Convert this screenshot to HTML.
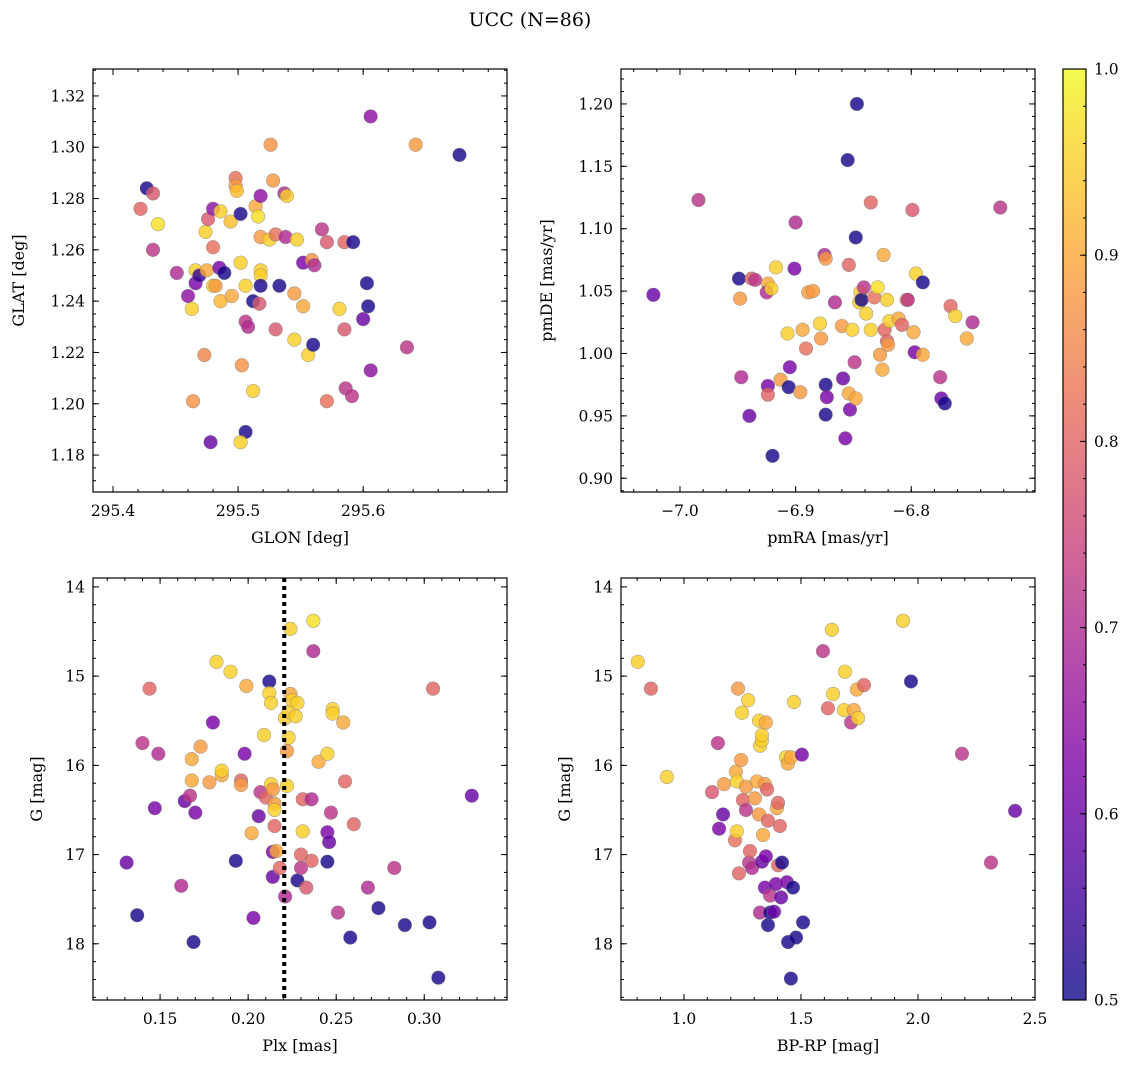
<!DOCTYPE html>
<html><head><meta charset="utf-8"><style>
html,body{margin:0;padding:0;background:#fff;}
svg{display:block;font-family:"DejaVu Serif","Liberation Serif",serif;}
</style></head><body>
<svg id="chart" width="1136" height="1068" viewBox="0 0 1136 1068" xmlns="http://www.w3.org/2000/svg">
<text x="530" y="26" font-size="19" text-anchor="middle">UCC (N=86)</text>
</svg>
<script>
// ---- Panel 1: GLON / GLAT ----
const glon=[295.427,295.432,295.422,295.436,295.432,295.451,295.460,295.463,295.466,295.466,295.469,295.475,295.480,295.486,295.482,295.473,295.464,295.478,295.474,295.476,295.480,295.480,295.486,295.485,295.489,295.495,295.494,295.498,295.498,295.499,295.502,295.502,295.506,295.506,295.508,295.512,295.506,295.502,295.503,295.512,295.514,295.516,295.518,295.518,295.518,295.518,295.518,295.517,295.525,295.526,295.528,295.530,295.533,295.530,295.537,295.539,295.538,295.545,295.547,295.545,295.552,295.552,295.556,295.559,295.561,295.560,295.567,295.571,295.571,295.581,295.585,295.585,295.586,295.592,295.591,295.600,295.603,295.604,295.606,295.606,295.635,295.642,295.677];
const glat=[1.284,1.282,1.276,1.270,1.260,1.251,1.242,1.237,1.247,1.252,1.250,1.252,1.246,1.240,1.246,1.219,1.201,1.185,1.267,1.272,1.276,1.261,1.275,1.253,1.251,1.242,1.271,1.288,1.285,1.283,1.274,1.255,1.246,1.232,1.230,1.205,1.189,1.185,1.215,1.240,1.277,1.273,1.281,1.265,1.252,1.250,1.246,1.239,1.264,1.301,1.287,1.266,1.246,1.229,1.282,1.281,1.265,1.243,1.264,1.225,1.255,1.238,1.219,1.256,1.254,1.223,1.268,1.263,1.201,1.237,1.263,1.229,1.206,1.263,1.203,1.233,1.247,1.238,1.312,1.213,1.222,1.301,1.297];
const prob1=[0.51,0.78,0.8,0.97,0.72,0.7,0.65,0.95,0.62,0.95,0.54,0.9,0.95,0.92,0.88,0.85,0.87,0.6,0.95,0.78,0.65,0.82,0.95,0.62,0.51,0.9,0.93,0.82,0.88,0.93,0.51,0.95,0.95,0.72,0.7,0.95,0.51,0.95,0.87,0.51,0.9,0.97,0.65,0.88,0.95,0.95,0.51,0.78,0.95,0.87,0.88,0.82,0.51,0.78,0.7,0.95,0.7,0.88,0.95,0.95,0.62,0.9,0.95,0.87,0.7,0.51,0.72,0.78,0.82,0.95,0.8,0.78,0.72,0.51,0.72,0.6,0.51,0.51,0.65,0.65,0.72,0.88,0.51];
// ---- Panel 2: pmRA / pmDE ----
const pmra=[-7.023,-6.984,-6.949,-6.948,-6.947,-6.940,-6.938,-6.935,-6.917,-6.924,-6.925,-6.921,-6.924,-6.924,-6.920,-6.913,-6.907,-6.906,-6.905,-6.901,-6.900,-6.896,-6.894,-6.891,-6.889,-6.885,-6.879,-6.878,-6.875,-6.874,-6.874,-6.873,-6.874,-6.866,-6.860,-6.859,-6.857,-6.855,-6.854,-6.854,-6.853,-6.851,-6.849,-6.848,-6.848,-6.847,-6.845,-6.844,-6.843,-6.841,-6.839,-6.835,-6.835,-6.832,-6.829,-6.827,-6.825,-6.824,-6.823,-6.821,-6.821,-6.820,-6.819,-6.811,-6.808,-6.804,-6.803,-6.799,-6.797,-6.798,-6.796,-6.790,-6.790,-6.766,-6.762,-6.775,-6.774,-6.771,-6.752,-6.747,-6.723];
const pmde=[1.047,1.123,1.060,1.044,0.981,0.950,1.060,1.059,1.069,1.056,1.049,1.052,0.974,0.967,0.918,0.979,1.016,0.973,0.989,1.068,1.105,0.969,1.019,1.004,1.049,1.050,1.024,1.012,1.079,1.076,0.975,0.965,0.951,1.041,1.022,0.980,0.932,1.155,1.071,0.968,0.955,1.019,0.993,1.093,0.964,1.200,1.041,1.049,1.043,1.053,1.032,1.121,1.019,1.045,1.053,0.999,0.987,1.079,1.019,1.043,1.010,1.007,1.026,1.028,1.023,1.043,1.043,1.115,1.001,1.017,1.064,1.057,0.999,1.038,1.030,0.981,0.964,0.960,1.012,1.025,1.117];
const prob2=[0.6,0.72,0.51,0.88,0.7,0.6,0.8,0.72,0.95,0.9,0.7,0.95,0.62,0.8,0.51,0.88,0.95,0.51,0.62,0.62,0.7,0.88,0.9,0.82,0.88,0.88,0.95,0.88,0.7,0.88,0.51,0.62,0.51,0.7,0.88,0.6,0.62,0.51,0.8,0.9,0.62,0.95,0.72,0.51,0.9,0.51,0.95,0.95,0.51,0.72,0.95,0.8,0.95,0.82,0.97,0.88,0.9,0.9,0.8,0.95,0.8,0.88,0.95,0.9,0.8,0.88,0.72,0.78,0.62,0.9,0.95,0.51,0.9,0.8,0.95,0.72,0.6,0.51,0.9,0.7,0.72];
// ---- Panel 3: Plx / G ----
const plx=[0.131,0.137,0.140,0.144,0.147,0.149,0.162,0.164,0.167,0.169,0.168,0.168,0.170,0.173,0.178,0.180,0.182,0.185,0.185,0.190,0.193,0.196,0.196,0.198,0.199,0.202,0.203,0.206,0.207,0.209,0.212,0.210,0.212,0.213,0.213,0.214,0.214,0.214,0.215,0.215,0.215,0.216,0.218,0.221,0.221,0.222,0.222,0.223,0.223,0.224,0.224,0.225,0.227,0.228,0.228,0.230,0.230,0.231,0.231,0.233,0.236,0.236,0.237,0.237,0.240,0.245,0.245,0.246,0.245,0.247,0.248,0.248,0.251,0.254,0.255,0.258,0.260,0.268,0.274,0.283,0.289,0.303,0.305,0.308,0.327];
const gmag3=[17.09,17.68,15.75,15.14,16.48,15.87,17.35,16.40,16.34,17.98,16.17,15.93,16.53,15.79,16.19,15.52,14.84,16.11,16.06,14.95,17.07,16.17,16.22,15.87,15.11,16.76,17.71,16.57,16.30,15.66,15.06,16.36,15.19,15.30,16.21,16.27,16.97,17.25,16.68,16.43,16.50,16.96,17.15,17.47,15.47,15.84,16.23,15.40,15.69,15.20,14.47,15.27,15.45,17.29,15.30,17.00,17.15,16.74,16.38,17.37,17.07,16.38,14.72,14.38,15.96,16.75,17.08,16.86,15.87,16.53,15.37,15.42,17.65,15.52,16.18,17.93,16.66,17.37,17.60,17.15,17.79,17.76,15.14,18.38,16.34];
const prob3=[0.6,0.51,0.72,0.8,0.62,0.7,0.7,0.6,0.72,0.51,0.9,0.9,0.62,0.88,0.88,0.62,0.95,0.9,0.95,0.95,0.51,0.8,0.88,0.62,0.9,0.9,0.62,0.6,0.72,0.95,0.51,0.8,0.95,0.95,0.95,0.88,0.62,0.6,0.8,0.88,0.95,0.9,0.8,0.7,0.95,0.88,0.95,0.95,0.95,0.9,0.95,0.95,0.95,0.51,0.95,0.8,0.72,0.95,0.8,0.78,0.8,0.7,0.7,0.97,0.9,0.62,0.51,0.6,0.95,0.72,0.95,0.95,0.72,0.9,0.8,0.51,0.8,0.7,0.51,0.72,0.51,0.51,0.8,0.51,0.6];
// ---- Panel 4: BP-RP / G ----
const bprp=[0.803,0.859,0.927,1.120,1.145,1.150,1.167,1.171,1.218,1.222,1.226,1.226,1.231,1.235,1.244,1.248,1.252,1.265,1.265,1.274,1.278,1.282,1.291,1.303,1.312,1.321,1.321,1.325,1.333,1.333,1.325,1.333,1.338,1.346,1.346,1.350,1.350,1.355,1.359,1.359,1.368,1.368,1.385,1.393,1.397,1.402,1.402,1.410,1.415,1.419,1.445,1.436,1.440,1.457,1.444,1.457,1.466,1.470,1.479,1.504,1.509,1.594,1.615,1.632,1.637,1.688,1.684,1.714,1.726,1.739,1.744,1.769,1.936,1.970,2.188,2.312,2.415];
const gmag4=[14.84,15.14,16.13,16.30,15.75,16.71,16.55,16.21,16.84,16.07,16.18,16.74,15.14,17.21,15.94,15.41,16.39,16.24,16.50,15.27,17.09,16.96,17.15,16.37,16.18,16.55,15.50,15.78,15.72,15.66,17.65,17.08,16.78,16.21,17.37,15.52,17.02,16.27,16.62,17.79,17.65,17.46,17.64,17.33,16.48,17.12,16.42,16.68,17.48,17.09,17.98,15.91,17.31,18.39,15.98,15.91,17.37,15.29,17.93,15.88,17.76,14.72,15.36,14.48,15.20,14.95,15.38,15.52,15.38,15.15,15.47,15.10,14.38,15.06,15.87,17.09,16.51];
const prob4=[0.95,0.8,0.95,0.78,0.72,0.62,0.6,0.88,0.82,0.9,0.95,0.95,0.88,0.8,0.88,0.95,0.8,0.88,0.72,0.95,0.72,0.8,0.7,0.88,0.9,0.88,0.95,0.95,0.95,0.95,0.7,0.6,0.9,0.88,0.62,0.9,0.62,0.8,0.8,0.51,0.51,0.72,0.6,0.62,0.9,0.8,0.8,0.8,0.6,0.51,0.51,0.95,0.62,0.51,0.9,0.9,0.51,0.95,0.51,0.62,0.51,0.72,0.8,0.95,0.95,0.95,0.95,0.72,0.9,0.9,0.95,0.8,0.95,0.51,0.72,0.72,0.6];
// ---- tick labels ----
const p1xTicks=[295.4,295.5,295.6], p1xLabels=["295.4","295.5","295.6"];
const p1yTicks=[1.18,1.20,1.22,1.24,1.26,1.28,1.30,1.32], p1yLabels=["1.18","1.20","1.22","1.24","1.26","1.28","1.30","1.32"];
const p2xTicks=[-7.0,-6.9,-6.8], p2xLabels=["\u22127.0","\u22126.9","\u22126.8"];
const p2yTicks=[0.90,0.95,1.00,1.05,1.10,1.15,1.20], p2yLabels=["0.90","0.95","1.00","1.05","1.10","1.15","1.20"];
const p3xTicks=[0.15,0.20,0.25,0.30], p3xLabels=["0.15","0.20","0.25","0.30"];
const gTicks=[14,15,16,17,18], gLabels=["14","15","16","17","18"];
const p4xTicks=[1.0,1.5,2.0,2.5], p4xLabels=["1.0","1.5","2.0","2.5"];
const cbTicks=[0.5,0.6,0.7,0.8,0.9,1.0], cbLabels=["0.5","0.6","0.7","0.8","0.9","1.0"];
const plxLine=0.2205;

const NS="http://www.w3.org/2000/svg";
const svg=document.getElementById('chart');
function mk(tag,attrs,parent){const e=document.createElementNS(NS,tag);for(const k in attrs)e.setAttribute(k,attrs[k]);(parent||svg).appendChild(e);return e;}
const stops=[[0,[13,8,135]],[0.125,[75,3,161]],[0.25,[125,3,168]],[0.375,[168,34,150]],[0.5,[203,70,121]],[0.625,[229,107,93]],[0.75,[248,148,65]],[0.875,[253,195,40]],[1,[240,249,33]]];
function plasma(t){t=Math.max(0,Math.min(1,t));for(let i=1;i<stops.length;i++){if(t<=stops[i][0]){const a=stops[i-1],b=stops[i];const f=(t-a[0])/(b[0]-a[0]);const c=a[1].map((v,j)=>Math.round(v+(b[1][j]-v)*f));return `rgb(${c[0]},${c[1]},${c[2]})`;}}return 'rgb(240,249,33)';}
function cmap(p){return plasma((p-0.5)/0.5);}

function panel(o){
  const g=mk('g',{});
  
  
  const L=o.box[0],T=o.box[1],R=o.box[2],B=o.box[3];
  const sx=v=>L+(v-o.xd[0])/(o.xd[1]-o.xd[0])*(R-L);
  const sy=v=>B-(v-o.yd[0])/(o.yd[1]-o.yd[0])*(B-T);
  const sy2=o.inv?(v=>T+(v-o.yd[0])/(o.yd[1]-o.yd[0])*(B-T)):sy;
  const cid='clip'+o.name;
  const cp=mk('clipPath',{id:cid},g);mk('rect',{x:L,y:T,width:R-L,height:B-T},cp);
  const pg=mk('g',{'clip-path':`url(#${cid})`},g);
  
  
  for(let i=0;i<Math.min(o.x.length,o.y.length);i++){
    const c=mk('circle',{cx:sx(o.x[i]),cy:sy2(o.y[i]),r:6.8,fill:cmap(o.c[i]),'fill-opacity':0.82,stroke:'#777','stroke-opacity':0.6,'stroke-width':0.6},pg);
    
    
  }
  if(o.vline!==undefined){const l=mk('line',{x1:sx(o.vline),x2:sx(o.vline),y1:T,y2:B,stroke:'#000','stroke-width':4,'stroke-dasharray':'4 4'},pg);
    
    }
  mk('rect',{x:L,y:T,width:R-L,height:B-T,fill:'none',stroke:'#000','stroke-width':1.2},g);
  o.xt.forEach((v,i)=>{const X=sx(v);
    mk('line',{x1:X,x2:X,y1:B,y2:B-6,stroke:'#000'},g);mk('line',{x1:X,x2:X,y1:T,y2:T+6,stroke:'#000'},g);
    const t=mk('text',{x:X,y:B+24,'font-size':15.5,'text-anchor':'middle'},g);t.textContent=o.xl[i];
    
    
  });
  for(let v=o.xt[0]-o.xs*10;v<=o.xd[1];v+=o.xs){if(v<o.xd[0])continue;const X=sx(v);
    mk('line',{x1:X,x2:X,y1:B,y2:B-3,stroke:'#000'},g);mk('line',{x1:X,x2:X,y1:T,y2:T+3,stroke:'#000'},g);}
  o.yt.forEach((v,i)=>{const Y=sy2(v);
    mk('line',{x1:L,x2:L+6,y1:Y,y2:Y,stroke:'#000'},g);mk('line',{x1:R,x2:R-6,y1:Y,y2:Y,stroke:'#000'},g);
    const t=mk('text',{x:L-8,y:Y+5.5,'font-size':15.5,'text-anchor':'end'},g);t.textContent=o.yl[i];
    
    
  });
  const ylo=Math.min(o.yd[0],o.yd[1]),yhi=Math.max(o.yd[0],o.yd[1]);
  for(let v=o.yt[0]-o.ys*10;v<=yhi;v+=o.ys){if(v<ylo)continue;const Y=sy2(v);
    mk('line',{x1:L,x2:L+3,y1:Y,y2:Y,stroke:'#000'},g);mk('line',{x1:R,x2:R-3,y1:Y,y2:Y,stroke:'#000'},g);}
  const xt=mk('text',{x:(L+R)/2,y:B+51,'font-size':16,'text-anchor':'middle'},g);xt.textContent=o.xlab;
  
  
  const cy=(T+B)/2;const yt=mk('text',{x:0,y:0,'font-size':16,'text-anchor':'middle',transform:`translate(${o.ylx},${cy}) rotate(-90)`},g);yt.textContent=o.ylab;
  
  
}
panel({name:'glon-glat-panel',box:[93,69,507,492],xd:[295.384,295.715],yd:[1.1656,1.3305],x:glon,y:glat,c:prob1,xt:p1xTicks,xl:p1xLabels,xs:0.02,yt:p1yTicks,yl:p1yLabels,ys:0.005,xlab:'GLON [deg]',ylab:'GLAT [deg]',ylx:24});
panel({name:'pm-panel',box:[621,69,1035,492],xd:[-7.051,-6.693],yd:[0.889,1.228],x:pmra,y:pmde,c:prob2,xt:p2xTicks,xl:p2xLabels,xs:0.02,yt:p2yTicks,yl:p2yLabels,ys:0.01,xlab:'pmRA [mas/yr]',ylab:'pmDE [mas/yr]',ylx:552});
panel({name:'plx-g-panel',box:[93,578,507,1000],xd:[0.1119,0.347],yd:[13.90,18.63],inv:true,x:plx,y:gmag3,c:prob3,xt:p3xTicks,xl:p3xLabels,xs:0.01,yt:gTicks,yl:gLabels,ys:0.2,xlab:'Plx [mas]',ylab:'G [mag]',ylx:42,vline:plxLine});
panel({name:'cmd-panel',box:[621,578,1035,1000],xd:[0.731,2.5],yd:[13.90,18.63],inv:true,x:bprp,y:gmag4,c:prob4,xt:p4xTicks,xl:p4xLabels,xs:0.1,yt:gTicks,yl:gLabels,ys:0.2,xlab:'BP-RP [mag]',ylab:'G [mag]',ylx:570});

const cb=mk('g',{});


const defs=mk('defs',{},cb);const lg=mk('linearGradient',{id:'plasmaGrad',x1:0,y1:1,x2:0,y2:0},defs);
for(let i=0;i<=20;i++){mk('stop',{offset:i/20,'stop-color':plasma(i/20)},lg);}
const cL=1063,cR=1086,cT=69,cB=1000;
mk('rect',{x:cL,y:cT,width:cR-cL,height:cB-cT,fill:'url(#plasmaGrad)','fill-opacity':0.8},cb);
mk('rect',{x:cL,y:cT,width:cR-cL,height:cB-cT,fill:'none',stroke:'#000','stroke-width':1.2},cb);
const cy=v=>cB-(v-0.5)/0.5*(cB-cT);
cbTicks.forEach((v,i)=>{const Y=cy(v);mk('line',{x1:cR,x2:cR-6,y1:Y,y2:Y,stroke:'#000'},cb);
  const t=mk('text',{x:cR+8,y:Y+5.5,'font-size':15.5},cb);t.textContent=cbLabels[i];
  
  });
for(let v=0.52;v<1.0;v+=0.02){const Y=cy(v);mk('line',{x1:cR,x2:cR-3,y1:Y,y2:Y,stroke:'#000'},cb);}
</script>
</body></html>
